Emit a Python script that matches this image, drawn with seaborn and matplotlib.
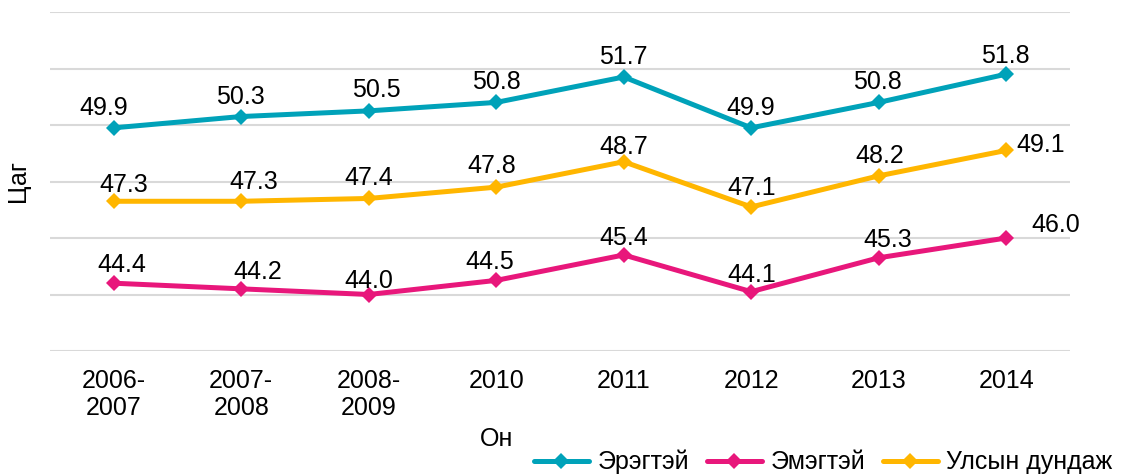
import matplotlib.pyplot as plt
import pandas as pd
import seaborn as sns

YEARS = ["2006-\n2007", "2007-\n2008", "2008-\n2009", "2010", "2011", "2012", "2013", "2014"]
SERIES = ["Эрэгтэй", "Эмэгтэй", "Улсын дундаж"]
MALE = [49.9, 50.3, 50.5, 50.8, 51.7, 49.9, 50.8, 51.8]
FEMALE = [44.4, 44.2, 44.0, 44.5, 45.4, 44.1, 45.3, 46.0]
NATIONAL = [47.3, 47.3, 47.4, 47.8, 48.7, 47.1, 48.2, 49.1]

COLORS = {"Эрэгтэй": "#00a2b9", "Эмэгтэй": "#e8177b", "Улсын дундаж": "#ffb600"}

# label offsets in pixels (dx, dy), Excel-style placement
LABEL_OFFSETS = {
    "Эрэгтэй": [(-10, 20), (-1, 20), (8, 21), (0, 20), (0, 20), (-1, 20), (-1, 20), (-1, 18)],
    "Эмэгтэй": [(8, 18), (16, 17), (0, 14), (-6, 18), (0, 17), (0, 17), (9, 18), (49, 13)],
    "Улсын дундаж": [(10, 16), (13, 19), (0, 20), (-5, 21), (0, 15), (0, 19), (1, 20), (34, 5)],
}
FS = 18


def build_frame():
    rows = []
    for name, values in zip(SERIES, [MALE, FEMALE, NATIONAL]):
        for i, v in enumerate(values):
            rows.append({"x": i, "value": v, "series": name})
    return pd.DataFrame(rows)


def run():
    sns.set_theme(style="white")
    plt.rcParams["font.family"] = ["Liberation Sans", "DejaVu Sans"]
    plt.rcParams["text.color"] = "black"
    plt.rcParams["axes.labelcolor"] = "black"
    plt.rcParams["xtick.color"] = "black"

    df = build_frame()
    fig = plt.figure(figsize=(11.25, 4.76), dpi=100)
    ax = fig.add_axes([50 / 1125, 1 - 351 / 476, 1020 / 1125, 339 / 476])

    sns.lineplot(
        data=df, x="x", y="value", hue="series", style="series",
        hue_order=SERIES, style_order=SERIES, palette=COLORS,
        markers={s: "D" for s in SERIES}, dashes=False,
        linewidth=3.6, markersize=8.5, markeredgewidth=0, ax=ax, zorder=3,
    )

    for name, values in zip(SERIES, [MALE, FEMALE, NATIONAL]):
        for i, v in enumerate(values):
            dx, dy = LABEL_OFFSETS[name][i]
            ax.annotate(f"{v:.1f}", (i, v), xytext=(dx, dy), textcoords="offset pixels",
                        ha="center", va="center", fontsize=FS, color="black", zorder=4)

    ax.set_xlim(-0.5, 7.5)
    ax.set_ylim(42, 54)
    ax.set_yticks(range(42, 55, 2))
    ax.set_yticklabels([])
    ax.set_xticks(range(len(YEARS)))
    ax.set_xticklabels(YEARS, fontsize=FS, linespacing=1.15)
    ax.tick_params(axis="x", length=0, pad=13, colors="black")
    ax.tick_params(axis="y", length=0)
    ax.grid(axis="y", color="#d9d9d9", linewidth=1.5)
    ax.grid(axis="x", visible=False)
    for spine in ax.spines.values():
        spine.set_visible(False)

    ax.set_ylabel("Цаг", fontsize=FS, color="black")
    ax.yaxis.set_label_coords(-20 / 1020, 0.5)
    ax.set_xlabel("Он", fontsize=FS, color="black")
    ax.xaxis.set_label_coords((497 - 50) / 1020, -(427 - 351) / 339)

    handles, labels = ax.get_legend_handles_labels()
    ax.get_legend().remove()
    fig.legend(handles, labels, loc="center right", bbox_to_anchor=(1.0, 1 - 462 / 476),
               ncol=3, frameon=False, fontsize=FS, handlelength=2.2, handletextpad=0.35,
               columnspacing=0.7, borderaxespad=0.1)

    fig.savefig("out.png", dpi=100)
    plt.close(fig)


if __name__ == "__main__":
    run()
